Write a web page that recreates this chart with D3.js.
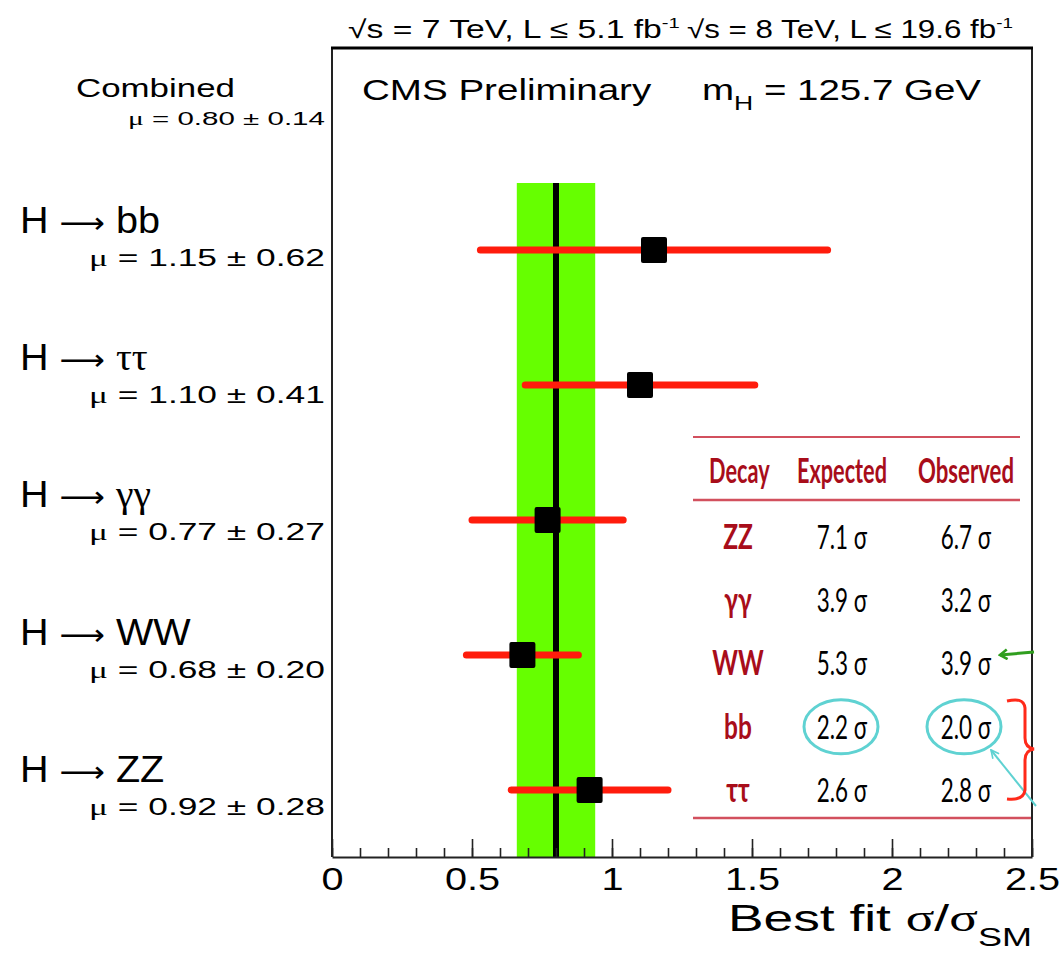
<!DOCTYPE html>
<html><head><meta charset="utf-8">
<script src="https://cdn.jsdelivr.net/npm/d3@7"></script>
<style>body{margin:0;background:#fff} svg{display:block}</style>
</head><body><svg id="c" width="1062" height="954"></svg>
<script>
// ---------------- data ----------------
const channelKeys   = ["bb", "ττ", "γγ", "WW", "ZZ"];
const channelLabels = ["H ⟶ bb", "H ⟶ ττ", "H ⟶ γγ", "H ⟶ WW", "H ⟶ ZZ"];
const muValues      = [1.15, 1.10, 0.77, 0.68, 0.92];
const muErrors      = [0.62, 0.41, 0.27, 0.20, 0.28];
const combinedMu    = 0.80;
const combinedErr   = 0.14;
const majorTicks    = [0, 0.5, 1, 1.5, 2, 2.5];
const minorTicks    = [0,0.1,0.2,0.3,0.4,0.5,0.6,0.7,0.8,0.9,1,1.1,1.2,1.3,1.4,1.5,1.6,1.7,1.8,1.9,2,2.1,2.2,2.3,2.4,2.5];
const tableHeaders  = ["Decay", "Expected", "Observed"];
const tableDecays   = ["ZZ", "γγ", "WW", "bb", "ττ"];
const expectedSigma = [7.1, 3.9, 5.3, 2.2, 2.6];
const observedSigma = [6.7, 3.2, 3.9, 2.0, 2.8];

// ---------------- setup ----------------
const svg = d3.select("#c");
const SANS = "'Liberation Sans', Arial, Helvetica, sans-serif";
const SERIF = "'Liberation Serif', 'DejaVu Serif', serif";
const TAB = "Lato, 'Open Sans', 'DejaVu Sans', sans-serif";

const x = d3.scaleLinear().domain([0, 2.5]).range([332, 1032]);
const y = d3.scalePoint().domain(channelKeys).range([250, 790]);
const yLab = d3.scalePoint().domain(channelKeys).range([233, 782]);
const frame = {l: 332, r: 1032, t: 48, b: 857};

function richText(sel, str) {
  str.split(/([μτγσ]+|⟶)/).forEach(part => {
    if (!part) return;
    const ts = sel.append("tspan").text(part);
    if (/[μτγσ]/.test(part)) ts.attr("font-family", SERIF);
    if (part === "⟶") ts.attr("font-family", "'DejaVu Sans', sans-serif").attr("font-size", "0.8em");
  });
  return sel;
}
function fit(t, x0, x1) {
  const b = t.node().getBBox();
  const s = (x1 - x0) / b.width;
  t.attr("transform", `translate(${x0 - b.x * s},0) scale(${s},1)`);
  return s;
}

// ---------------- plot marks ----------------
const plot = svg.append("g");
plot.append("rect")
  .attr("x", x(combinedMu - combinedErr)).attr("width", x(combinedMu + combinedErr) - x(combinedMu - combinedErr))
  .attr("y", 183).attr("height", frame.b - 183)
  .attr("fill", "#66ff00");
plot.append("line")
  .attr("x1", x(combinedMu)).attr("x2", x(combinedMu))
  .attr("y1", 183).attr("y2", frame.b)
  .attr("stroke", "#000").attr("stroke-width", 6);

const rows = channelKeys.map((k, i) => ({k, label: channelLabels[i], mu: muValues[i], err: muErrors[i]}));
plot.selectAll("line.err").data(rows).join("line").attr("class", "err")
  .attr("x1", d => x(d.mu - d.err)).attr("x2", d => x(d.mu + d.err))
  .attr("y1", d => y(d.k)).attr("y2", d => y(d.k))
  .attr("stroke", "#ff1c0c").attr("stroke-width", 7).attr("stroke-linecap", "round");
plot.selectAll("rect.pt").data(rows).join("rect").attr("class", "pt")
  .attr("x", d => x(d.mu) - 13).attr("y", d => y(d.k) - 13)
  .attr("width", 26).attr("height", 26).attr("rx", 2)
  .attr("fill", "#000");

// ---------------- frame & axis ----------------
const fr = svg.append("g").attr("stroke", "#222").attr("fill", "none");
fr.append("line").attr("x1", frame.l).attr("x2", frame.l).attr("y1", frame.t).attr("y2", frame.b).attr("stroke-width", 2);
fr.append("line").attr("x1", frame.r).attr("x2", frame.r).attr("y1", frame.t).attr("y2", frame.b).attr("stroke-width", 2);
fr.append("line").attr("x1", frame.l - 1).attr("x2", frame.r + 1).attr("y1", frame.t).attr("y2", frame.t).attr("stroke-width", 3).attr("stroke", "#000");

const minorAx = svg.append("g").attr("transform", `translate(0,${frame.b})`)
  .call(d3.axisBottom(x).tickValues(minorTicks).tickSizeInner(-9).tickSizeOuter(0).tickFormat(""));
minorAx.select(".domain").remove();
const majorAx = svg.append("g").attr("transform", `translate(0,${frame.b})`)
  .call(d3.axisBottom(x).tickValues(majorTicks).tickSizeInner(-18).tickSizeOuter(0).tickFormat(d3.format("")));
majorAx.select(".domain").attr("stroke", "#222").attr("stroke-width", 2);
svg.selectAll(".tick line").attr("stroke", "#222").attr("stroke-width", 1.6);
majorAx.selectAll(".tick text")
  .attr("y", 33).attr("dy", 0).attr("font-size", 31).attr("font-family", SANS).attr("fill", "#000")
  .attr("transform", "scale(1.28,1)");

// axis title
const at = svg.append("text").attr("y", 931).attr("font-family", SANS).attr("font-size", 37).attr("fill", "#000");
richText(at, "Best fit σ/σ");
at.append("tspan").attr("font-size", 25).attr("dy", 15).text("SM");
fit(at, 728, 1032);

// ---------------- header texts ----------------
function header(str, x0, x1) {
  const t = svg.append("text").attr("y", 38).attr("font-family", SANS).attr("font-size", 25).attr("fill", "#000");
  t.append("tspan").text(str);
  t.append("tspan").attr("font-size", 15).attr("dy", -10).text("-1");
  fit(t, x0, x1);
}
header("√s = 7 TeV, L ≤ 5.1 fb", 348, 680);
header("√s = 8 TeV, L ≤ 19.6 fb", 687, 1013);

const cms = svg.append("text").attr("y", 100).attr("font-family", SANS).attr("font-size", 29).attr("fill", "#000").text("CMS Preliminary");
fit(cms, 362, 652);
const mh = svg.append("text").attr("y", 100).attr("font-family", SANS).attr("font-size", 29).attr("fill", "#000");
mh.append("tspan").text("m");
mh.append("tspan").attr("font-size", 20).attr("dy", 10).text("H");
mh.append("tspan").attr("dy", -10).text(" = 125.7 GeV");
fit(mh, 702, 982);

// ---------------- left labels ----------------
const comb = svg.append("text").attr("y", 97).attr("font-family", SANS).attr("font-size", 26).attr("fill", "#000").text("Combined");
fit(comb, 76, 235);
const combMu = svg.append("text").attr("y", 125).attr("font-family", SANS).attr("font-size", 18).attr("fill", "#000");
richText(combMu, `μ = ${d3.format(".2f")(combinedMu)} ± ${d3.format(".2f")(combinedErr)}`);
fit(combMu, 128, 325);

let labScale = null;
rows.forEach(d => {
  const t = svg.append("text").attr("y", yLab(d.k)).attr("font-family", SANS).attr("font-size", 37).attr("fill", "#000");
  richText(t, d.label);
  if (labScale === null) { labScale = fit(t, 20, 160); }
  else {
    const b = t.node().getBBox();
    t.attr("transform", `translate(${20 - b.x * labScale},0) scale(${labScale},1)`);
  }
  const m = svg.append("text").attr("y", yLab(d.k) + 33).attr("font-family", SANS).attr("font-size", 23).attr("fill", "#000");
  richText(m, `μ = ${d3.format(".2f")(d.mu)} ± ${d3.format(".2f")(d.err)}`);
  fit(m, 89, 325);
});

// ---------------- table ----------------
const tb = svg.append("g");
const lineCol = "#d2505e";
tb.append("line").attr("x1", 693).attr("x2", 1020).attr("y1", 437).attr("y2", 437).attr("stroke", lineCol).attr("stroke-width", 2);
tb.append("line").attr("x1", 693).attr("x2", 1020).attr("y1", 500).attr("y2", 500).attr("stroke", lineCol).attr("stroke-width", 2.5);
tb.append("line").attr("x1", 693).attr("x2", 1031).attr("y1", 818).attr("y2", 818).attr("stroke", lineCol).attr("stroke-width", 2.5);

const headSpan = [[709, 770], [797, 887], [918, 1014]];
tableHeaders.forEach((h, i) => {
  const t = tb.append("text").attr("y", 483).attr("font-family", TAB).attr("font-weight", 700)
    .attr("font-size", 35).attr("fill", "#a80d1a").text(h);
  fit(t, headSpan[i][0], headSpan[i][1]);
});
const ty = d3.scalePoint().domain(tableDecays).range([549, 802]);
const colX = [738, 842, 966];
const f1 = d3.format(".1f");
tableDecays.forEach((dk, i) => {
  const cells = [dk, `${f1(expectedSigma[i])} σ`, `${f1(observedSigma[i])} σ`];
  cells.forEach((c, j) => {
    tb.append("text").attr("y", ty(dk)).attr("text-anchor", "middle")
      .attr("font-family", TAB).attr("font-size", j === 0 ? 34 : 33)
      .attr("font-weight", j === 0 ? 700 : 400)
      .attr("fill", j === 0 ? "#a80d1a" : "#000")
      .attr("transform", `translate(${colX[j]},0) scale(${j === 0 ? 0.72 : 0.68},1)`)
      .text(c);
  });
});

// ---------------- annotations ----------------
const cyan = "#5fd2d2";
const bbRow = ty("bb") - 12;
tb.append("ellipse").attr("cx", 841).attr("cy", bbRow).attr("rx", 37).attr("ry", 27).attr("fill", "none").attr("stroke", cyan).attr("stroke-width", 3);
tb.append("ellipse").attr("cx", 964).attr("cy", bbRow).attr("rx", 37).attr("ry", 27).attr("fill", "none").attr("stroke", cyan).attr("stroke-width", 3);

const defs = svg.append("defs");
defs.append("marker").attr("id", "ahC").attr("viewBox", "0 0 10 10").attr("refX", 9).attr("refY", 5)
  .attr("markerWidth", 5).attr("markerHeight", 5).attr("orient", "auto")
  .append("path").attr("d", "M1,1 L9,5 L1,9").attr("fill", "none").attr("stroke", cyan).attr("stroke-width", 1.6);
defs.append("marker").attr("id", "ahG").attr("viewBox", "0 0 10 10").attr("refX", 8).attr("refY", 5)
  .attr("markerWidth", 4).attr("markerHeight", 4).attr("orient", "auto")
  .append("path").attr("d", "M2,1 L8,5 L2,9").attr("fill", "none").attr("stroke", "#2f9e1e").attr("stroke-width", 2.2);

tb.append("line").attr("x1", 1036).attr("y1", 806).attr("x2", 991).attr("y2", 750)
  .attr("stroke", cyan).attr("stroke-width", 2).attr("marker-end", "url(#ahC)");
tb.append("line").attr("x1", 1034).attr("y1", 652).attr("x2", 1000).attr("y2", 655)
  .attr("stroke", "#2f9e1e").attr("stroke-width", 3).attr("marker-end", "url(#ahG)");
tb.append("path")
  .attr("d", "M1007,701 C1016,699 1024,699 1025,708 L1025,738 C1025,745 1028,748 1034,749 C1028,750 1025,753 1025,760 L1025,790 C1024,798 1016,800 1007,799")
  .attr("fill", "none").attr("stroke", "#ff2a1a").attr("stroke-width", 3);
</script></body></html>
